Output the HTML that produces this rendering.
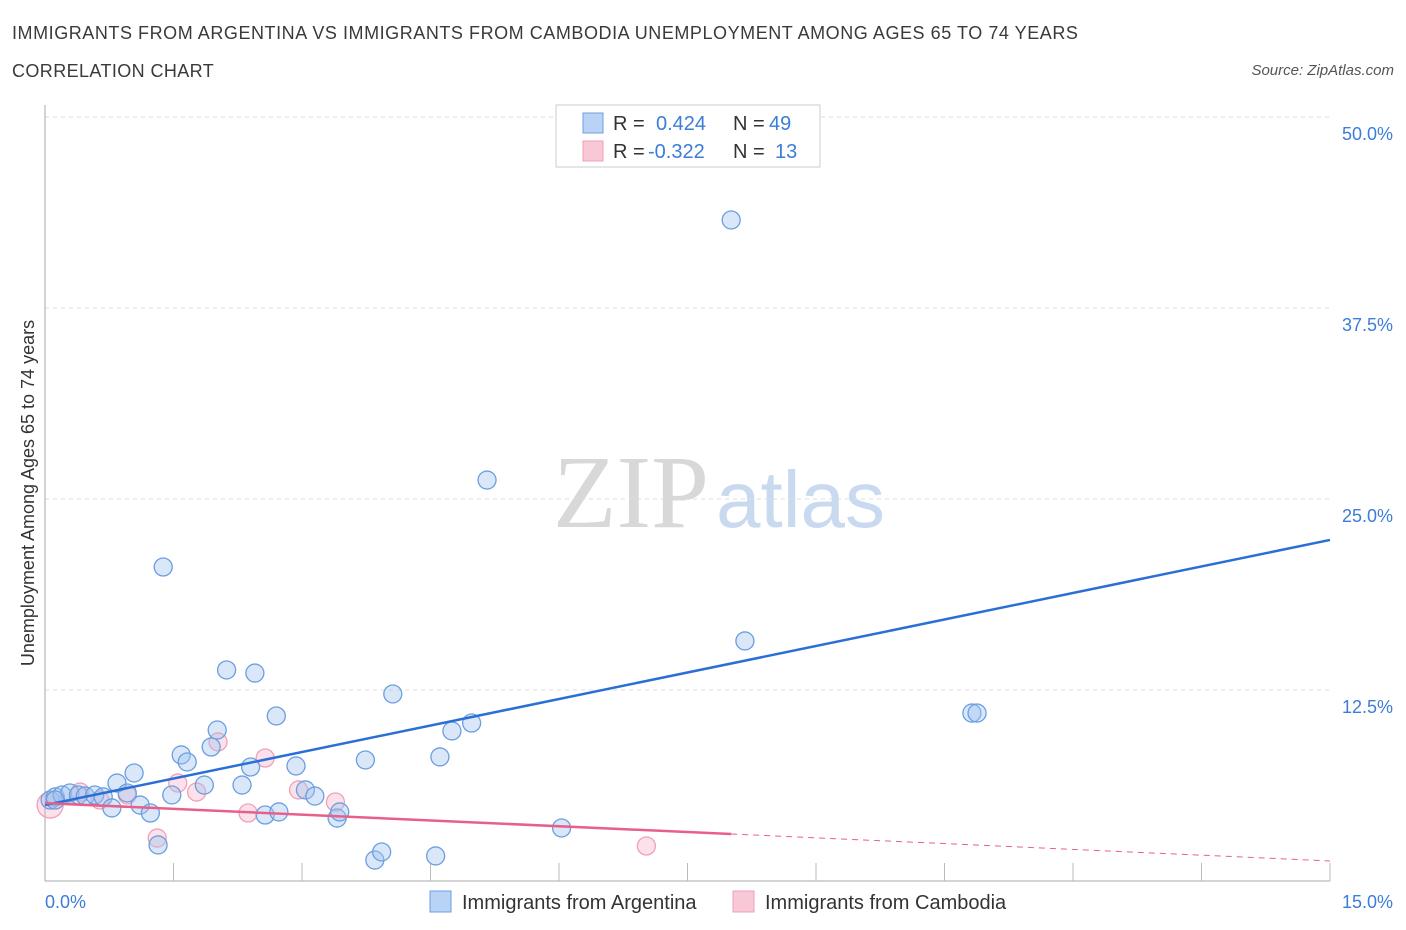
<!DOCTYPE html>
<html><head><meta charset="utf-8">
<style>
body{margin:0;background:#fff;font-family:"Liberation Sans",sans-serif;}
#wrap{position:relative;width:1406px;height:930px;overflow:hidden}
.t{position:absolute;white-space:nowrap}
</style></head><body>
<div id="wrap">
<div class="t" style="left:12px;top:23px;font-size:18px;letter-spacing:0.55px;color:#3a3a3a">IMMIGRANTS FROM ARGENTINA VS IMMIGRANTS FROM CAMBODIA UNEMPLOYMENT AMONG AGES 65 TO 74 YEARS</div>
<div class="t" style="left:12px;top:61px;font-size:18px;letter-spacing:0.4px;color:#3a3a3a">CORRELATION CHART</div>
<div class="t" style="right:12px;top:62px;font-size:15px;color:#555;font-style:italic">Source: ZipAtlas.com</div>
<svg id="svg" width="1406" height="930" style="position:absolute;left:0;top:0"></svg>
</div>
<script>
const xTicks=[0,15];
const yTicks=[12.5,25,37.5,50];
const argX=[0.06,0.12,0.20,0.29,0.39,0.47,0.58,0.68,0.78,0.84,0.96,1.04,1.11,1.23,1.32,1.38,1.48,1.59,1.66,1.86,1.94,2.01,2.12,2.30,2.40,2.45,2.57,2.70,2.73,2.93,3.04,3.15,3.41,3.44,3.74,3.85,3.93,4.06,4.56,4.61,4.75,4.98,5.16,6.03,8.01,8.17,10.82,10.88,0.12];
const argY=[5.30,5.50,5.63,5.76,5.63,5.56,5.63,5.50,4.78,6.41,5.76,7.07,4.97,4.45,2.36,20.55,5.63,8.25,7.79,6.28,8.77,9.88,13.81,6.28,7.46,13.61,4.32,10.80,4.52,7.53,5.96,5.56,4.12,4.52,7.92,1.37,1.90,12.24,1.64,8.12,9.82,10.34,26.24,3.47,43.26,15.71,10.99,10.99,5.30];
const camX=[0.06,0.41,0.64,0.96,1.31,1.55,1.77,2.02,2.37,2.57,2.96,3.39,7.02];
const camY=[4.97,5.82,5.30,5.63,2.81,6.41,5.82,9.10,4.45,8.05,5.96,5.17,2.29];
const argLine=[4.97,22.32];
const camLine=[5.10,1.31];
const camSolidEnd=8.01;

const X0=45,X1=1330,Y0=881,Y50=117;
const sx=v=>X0+(X1-X0)*v/15;
const sy=v=>Y0-(Y0-Y50)*v/50;
const svg=document.getElementById('svg');
const NS='http://www.w3.org/2000/svg';
function mk(tag,attrs,parent){const e=document.createElementNS(NS,tag);for(const k in attrs)e.setAttribute(k,attrs[k]);(parent||svg).appendChild(e);return e;}

let wm=mk('text',{x:553,y:527,'font-size':104,fill:'#d8d8d8','font-family':'Liberation Serif'});wm.textContent='ZIP';


let wm2=mk('text',{x:716,y:527,'font-size':80,fill:'#c9daf0','font-family':'Liberation Sans'});wm2.textContent='atlas';



yTicks.forEach(v=>{
  const g=mk('line',{x1:X0,x2:1330,y1:sy(v),y2:sy(v),stroke:'#ddd','stroke-dasharray':'4,4'});
  
  
  const t=mk('text',{x:1393,y:sy(v)+23,'text-anchor':'end','font-size':18,fill:'#3b7dd8'});t.textContent=v.toFixed(1)+'%';
  
  
});
let ax=mk('line',{x1:X0,x2:X0,y1:105,y2:Y0,stroke:'#aaa'});


let bx=mk('line',{x1:X0,x2:1330,y1:Y0,y2:Y0,stroke:'#aaa'});


for(let i=1;i<=10;i++){const px=X0+i*(X1-X0)/10;const tk=mk('line',{x1:px,x2:px,y1:Y0,y2:Y0-18,stroke:'#bbb'});

}
xTicks.forEach((v,i)=>{const t=mk('text',{x:i?1393:45,y:908,'text-anchor':i?'end':'start','font-size':18,fill:'#3b7dd8'});t.textContent=v.toFixed(1)+'%';

});
let yt=mk('text',{transform:'translate(34,493) rotate(-90)','text-anchor':'middle','font-size':18,fill:'#333'});yt.textContent='Unemployment Among Ages 65 to 74 years';



camX.forEach((x,i)=>{const c=mk('circle',{cx:sx(x),cy:sy(camY[i]),r:i===0?13:9,fill:'rgba(246,170,195,0.35)',stroke:'#f0a0b8','stroke-width':1.3});

});
argX.forEach((x,i)=>{const c=mk('circle',{cx:sx(x),cy:sy(argY[i]),r:9,fill:'rgba(160,195,240,0.4)',stroke:'#6b9fe0','stroke-width':1.3});

});

let bl=mk('line',{x1:sx(0),y1:sy(argLine[0]),x2:sx(15),y2:sy(argLine[1]),stroke:'#2a6fd6','stroke-width':2.5});


const cy=v=>camLine[0]+(camLine[1]-camLine[0])*v/15;
let pl=mk('line',{x1:sx(0),y1:sy(cy(0)),x2:sx(camSolidEnd),y2:sy(cy(camSolidEnd)),stroke:'#e8608a','stroke-width':2.5});


let pd=mk('line',{x1:sx(camSolidEnd),y1:sy(cy(camSolidEnd)),x2:sx(15),y2:sy(cy(15)),stroke:'#e8608a','stroke-width':1,'stroke-dasharray':'6,5'});



let lb=mk('rect',{x:556,y:105,width:264,height:62,fill:'#fff',stroke:'#ccc'});


[[0,'#b8d3f5','#6b9fe0','0.424','49'],[1,'#f9c8d6','#f0a0b8','-0.322','13']].forEach(r=>{
  const y=113+r[0]*28;
  const s=mk('rect',{x:583,y:y,width:20,height:20,fill:r[1],stroke:r[2]});
  
  
  const t=mk('text',{x:613,y:y+17,'font-size':20,fill:'#333'});
  t.innerHTML='R = <tspan fill="#3b7dd8" x="'+(r[0]?648:656)+'">'+r[3]+'</tspan><tspan x="733">N = </tspan><tspan fill="#3b7dd8" x="'+(r[0]?775:769)+'">'+r[4]+'</tspan>';
  
  
});
[[430,'#b8d3f5','#6b9fe0','Immigrants from Argentina'],[733,'#f9c8d6','#f0a0b8','Immigrants from Cambodia']].forEach(r=>{
  const s=mk('rect',{x:r[0],y:891,width:21,height:21,fill:r[1],stroke:r[2]});
  
  
  const t=mk('text',{x:r[0]+32,y:909,'font-size':20,fill:'#333'});t.textContent=r[3];
  
  
});
</script>
</body></html>
